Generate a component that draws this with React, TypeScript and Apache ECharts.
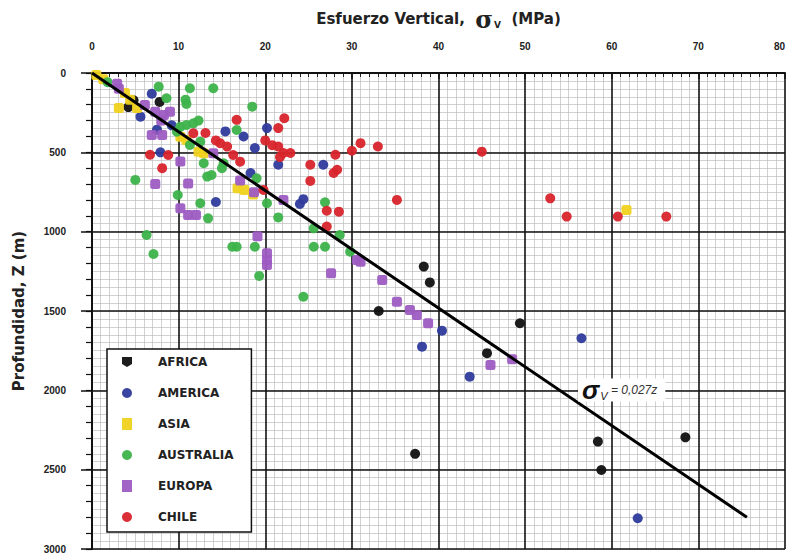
import React, { useEffect, useRef } from "react";
import * as echarts from "echarts";

// ---- Data: [esfuerzo vertical (MPa), profundidad (m)] ----
const africa: number[][] = [
  [4.8, 172], [4.2, 215], [7.8, 182], [38.3, 1220], [39.0, 1320], [33.1, 1500],
  [49.4, 1577], [45.6, 1766], [37.3, 2400], [58.4, 2323], [58.8, 2502], [68.5, 2296],
];
const america: number[][] = [
  [6.9, 130], [5.6, 275], [7.5, 357], [9.2, 330], [7.9, 500], [15.4, 368],
  [17.5, 400], [18.8, 473], [20.2, 347], [21.5, 578], [26.7, 578], [14.3, 813],
  [18.3, 630], [24.0, 825], [24.4, 795], [40.4, 1624], [38.1, 1725], [43.6, 1914],
  [56.5, 1672], [63.0, 2806],
];
const asia: number[][] = [
  [0.5, 12], [1.3, 40], [3.8, 126], [4.4, 168], [3.1, 220], [5.2, 220],
  [10.2, 401], [10.9, 422], [12.3, 496], [12.9, 506], [16.8, 727], [17.6, 737],
  [18.6, 765], [61.7, 863],
];
const australia: number[][] = [
  [1.8, 58], [7.7, 86], [8.6, 159], [11.3, 96], [10.8, 168], [10.9, 195],
  [14.0, 96], [10.2, 338], [10.9, 328], [11.7, 317], [12.3, 300], [9.8, 370],
  [11.3, 454], [12.5, 433], [12.9, 569], [13.3, 653], [13.8, 643], [15.2, 569],
  [15.0, 600], [16.7, 359], [18.5, 212], [19.0, 664], [5.0, 674], [9.9, 769],
  [12.5, 821], [13.4, 916], [20.2, 821], [21.5, 910], [26.9, 815], [25.6, 979],
  [28.6, 1021], [6.3, 1021], [7.1, 1141], [16.2, 1095], [16.7, 1095], [18.8, 1095],
  [19.3, 1279], [24.4, 1410], [25.6, 1095], [26.9, 1095], [29.8, 1126],
];
const europa: number[][] = [
  [2.9, 68], [3.1, 100], [6.1, 202], [7.3, 244], [8.3, 265], [9.0, 244],
  [8.0, 300], [6.9, 391], [8.1, 391], [10.2, 557], [14.0, 506], [7.3, 700],
  [11.1, 697], [17.1, 678], [18.7, 752], [22.1, 800], [10.2, 853], [11.1, 895],
  [12.0, 895], [19.1, 1029], [20.2, 1136], [20.2, 1178], [20.2, 1210], [27.6, 1262],
  [30.6, 1178], [31.0, 1189], [33.5, 1304], [35.2, 1441], [36.7, 1493], [37.5, 1525],
  [38.8, 1577], [46.0, 1840], [48.5, 1804],
];
const chile: number[][] = [
  [6.7, 515], [8.8, 517], [8.1, 600], [11.7, 380], [13.1, 378], [14.3, 425],
  [14.8, 443], [15.6, 464], [16.7, 295], [16.3, 517], [17.1, 559], [20.0, 425],
  [20.8, 455], [21.5, 347], [22.2, 285], [22.1, 504], [22.9, 504], [21.7, 530],
  [21.5, 464], [19.8, 737], [25.2, 578], [25.2, 680], [27.9, 630], [28.3, 610],
  [28.1, 515], [30.0, 490], [31.0, 442], [33.0, 463], [27.1, 868], [28.5, 874],
  [27.1, 968], [35.2, 800], [45.0, 496], [52.9, 790], [54.8, 905], [60.7, 905],
  [66.3, 905],
];

// Trend line sigma_v = 0.027 z
const sigmaCoef = 0.027;
const trendDepths = [0, 2800];

const seriesNames = ["AFRICA", "AMERICA", "ASIA", "AUSTRALIA", "EUROPA", "CHILE"];
const seriesData = [africa, america, asia, australia, europa, chile];
const seriesColors = ["#111111", "#2f3b9c", "#f0d21e", "#3db34b", "#9d5cc2", "#d8242b"];
const seriesSymbols = ["circle", "circle", "roundRect", "circle", "roundRect", "circle"];
const legendIcons = [
  "path://M0,0 L10,0 L10,7 L5,10 L0,7 Z",
  "circle",
  "rect",
  "circle",
  "rect",
  "circle",
];

const FONT = "Liberation Sans, Arial, sans-serif";
const WIDE = "DejaVu Sans, sans-serif";

export default function App() {
  const ref = useRef<HTMLDivElement>(null);
  useEffect(() => {
    document.body.style.margin = "0";
    const chart = echarts.init(ref.current as HTMLDivElement, null, { renderer: "svg" });
    const scatterSeries = seriesNames.map((name, i) => ({
      name,
      type: "scatter",
      data: seriesData[i],
      symbol: seriesSymbols[i],
      symbolSize: 10,
      itemStyle: { color: seriesColors[i], opacity: 0.95 },
      emphasis: { disabled: true },
      z: 2,
    }));
    chart.setOption({
      animation: false,
      backgroundColor: "#ffffff",
      textStyle: { fontFamily: FONT },
      grid: { left: 92, top: 73, right: 2, bottom: 7, containLabel: false, outerBoundsMode: "none" },
      legend: {
        orient: "vertical",
        left: 107,
        top: 349,
        backgroundColor: "#ffffff",
        borderColor: "#111",
        borderWidth: 1.5,
        borderRadius: 0,
        padding: [7, 18, 9, 15],
        itemWidth: 10,
        itemHeight: 12,
        itemGap: 19,
        selectedMode: false,
        textStyle: {
          fontFamily: WIDE,
          fontWeight: "bold",
          fontSize: 12,
          lineHeight: 12,
          color: "#222",
          padding: [0, 0, 0, 21],
        },
        data: seriesNames.map((n, i) => ({ name: n, icon: legendIcons[i] })),
      },
      xAxis: {
        type: "value",
        position: "top",
        min: 0,
        max: 80,
        interval: 10,
        z: 1,
        name: "Esfuerzo Vertical,  {s|σ}{v|V}  (MPa)",
        nameLocation: "middle",
        nameGap: 42,
        nameTextStyle: {
          fontFamily: WIDE,
          fontWeight: "bold",
          fontSize: 15,
          color: "#222",
          rich: {
            s: { fontFamily: "DejaVu Serif, serif", fontSize: 24, color: "#222" },
            v: { fontFamily: WIDE, fontSize: 9, color: "#222", padding: [11, 0, 0, 1] },
          },
        },
        axisLine: { show: true, lineStyle: { color: "#111", width: 2 } },
        axisTick: { show: true, inside: true, length: 6, lineStyle: { color: "#111", width: 1.5 } },
        minorTick: { show: true, splitNumber: 10, length: 4, lineStyle: { color: "#222", width: 1 } },
        axisLabel: {
          margin: 22,
          fontFamily: FONT,
          fontWeight: "bold",
          fontSize: 10,
          color: "#222",
          alignMaxLabel: "right",
        },
        splitLine: { show: true, lineStyle: { color: "#111", width: 1.6 } },
        minorSplitLine: { show: true, lineStyle: { color: "#bdbdbd", width: 0.7 } },
      },
      yAxis: [
        {
          type: "value",
          inverse: true,
          position: "left",
          min: 0,
          max: 3000,
          interval: 500,
          z: 2,
          name: "Profundidad, Z (m)",
          nameLocation: "middle",
          nameGap: 66,
          nameTextStyle: { fontFamily: WIDE, fontWeight: "bold", fontSize: 15, color: "#222" },
          axisLine: { show: true, lineStyle: { color: "#111", width: 2 } },
          axisTick: { show: true, length: 11, lineStyle: { color: "#111", width: 1.5 } },
          axisLabel: {
            margin: 26,
            fontFamily: FONT,
            fontWeight: "bold",
            fontSize: 10,
            color: "#222",
            formatter: (v: number) => String(v),
          },
          splitLine: { show: true, lineStyle: { color: "#111", width: 1.6 } },
        },
        {
          type: "value",
          inverse: true,
          position: "left",
          min: 0,
          max: 3000,
          interval: 100,
          z: 0,
          axisLine: { show: false },
          axisTick: { show: true, length: 6, lineStyle: { color: "#111", width: 1.2 } },
          axisLabel: { show: false },
          splitLine: { show: true, lineStyle: { color: "#bdbdbd", width: 0.7 } },
          minorTick: { show: false, splitNumber: 2 },
          minorSplitLine: { show: true, lineStyle: { color: "#bdbdbd", width: 0.7 } },
        },
      ],
      series: [
        ...scatterSeries,
        {
          name: "trend",
          type: "line",
          data: trendDepths.map((z) => [sigmaCoef * z, z]),
          showSymbol: false,
          symbol: "none",
          lineStyle: { color: "#000", width: 3 },
          emphasis: { disabled: true },
          z: 3,
        },
      ],
      graphic: [
        {
          type: "text",
          x: 578,
          y: 390,
          z: 10,
          style: {
            text: "{s|σ}{v|V}{e| = 0,027z}",
            verticalAlign: "middle",
            backgroundColor: "#ffffff",
            padding: [0, 8, 0, 4],
            rich: {
              s: { fontFamily: FONT, fontStyle: "italic", fontWeight: "bold", fontSize: 26, fill: "#111", lineHeight: 22 },
              v: { fontFamily: FONT, fontStyle: "italic", fontSize: 11, fill: "#222", padding: [12, 0, 0, 1] },
              e: { fontFamily: FONT, fontStyle: "italic", fontSize: 12, fill: "#333" },
            },
          },
        },
      ],
    });
    return () => chart.dispose();
  }, []);
  return <div ref={ref} style={{ position: "absolute", left: 0, top: 0, width: 787, height: 556 }} />;
}
